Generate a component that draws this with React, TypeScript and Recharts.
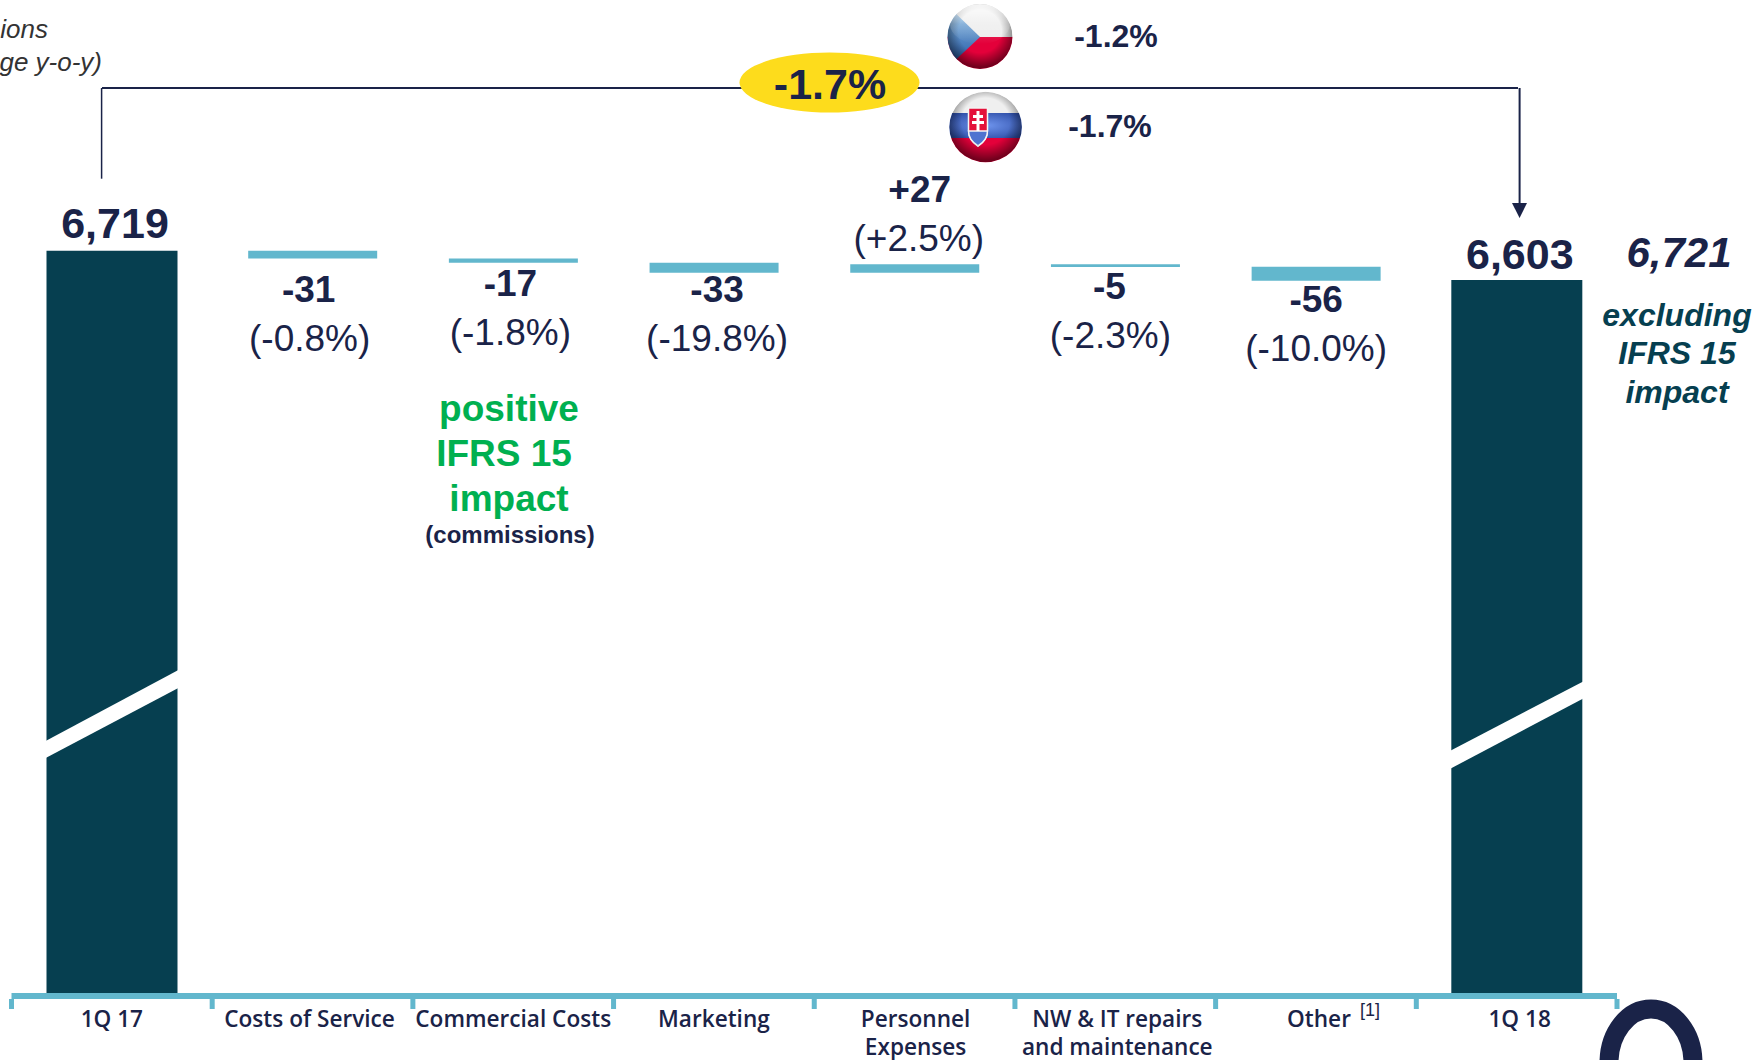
import { BarChart, Bar, Cell, XAxis, YAxis, LabelList, Rectangle } from 'recharts'

const categories = ['1Q 17', 'Costs of Service', 'Commercial Costs', 'Marketing', 'Personnel\nExpenses', 'NW & IT repairs\nand maintenance', 'Other', '1Q 18']
const barLows = [3780, 6688, 6671, 6632, 6632, 6654, 6600, 3780]
const barHighs = [6719, 6719, 6688, 6671, 6665, 6665, 6655, 6603]
const deltaLabels = ['6,719', '-31', '-17', '-33', '+27', '-5', '-56', '6,603']
const pctLabels = ['', '(-0.8%)', '(-1.8%)', '(-19.8%)', '(+2.5%)', '(-2.3%)', '(-10.0%)', '']

// label nudges from the bar top / band centre, in px
const labelDy = [-13, 51, 37, 39, -62, 35, 45, -11]
const pctDy = [0, 100, 86, 88, -13, 84, 94, 0]
const labelDx = [3, -4, -3, 3, 5, -6, 0, 3]
const pctDx = [0, -3, -3, 3, 4, -5, 0, 0]
const tickDx = [0, -3, 0, 0, 1, 2, 3, 3]

const NAVY = '#1A2348'
const TEAL = '#063F50'
const LIGHT = '#62B7CD'
const GREEN = '#00B050'
const YELLOW = '#FDDC1C'
const FONT = '"Liberation Sans", Arial, sans-serif'
const AXIS_FONT = '"Open Sans", sans-serif'

const WIDTH = 1763
const HEIGHT = 1060
const PLOT_LEFT = 11.5
const PLOT_RIGHT = 1617
const BAND = (PLOT_RIGHT - PLOT_LEFT) / categories.length

const isTotal = (i: number) => i === 0 || i === categories.length - 1

const data = categories.map((name, i) => ({
  name,
  range: [barLows[i], barHighs[i]],
  idx: i,
}))

function AxisTick({ x, y, payload, index }: any) {
  const lines = String(payload.value).split('\n')
  const cx = x + tickDx[index]
  return (
    <g>
      <rect x={x - BAND / 2 - 2.5} y={y - 2} width={5} height={10} fill={LIGHT} />
      {index === categories.length - 1 && <rect x={x + BAND / 2 - 2.5} y={y - 2} width={5} height={10} fill={LIGHT} />}
      {lines.map((line, i) => (
        <text key={i} x={cx} y={1026.5 + i * 28} textAnchor="middle" fontFamily={AXIS_FONT} fontWeight={600} fontSize={22.6} fill={NAVY}>
          {line}
        </text>
      ))}
    </g>
  )
}

function BarLabel({ x, y, width, index }: any) {
  const cx = x + width / 2
  return (
    <g>
      <text x={cx + labelDx[index]} y={y + labelDy[index]} textAnchor="middle" fontFamily={FONT} fontWeight={700} fontSize={isTotal(index) ? 43 : 37} fill={NAVY}>
        {deltaLabels[index]}
      </text>
      {pctLabels[index] && (
        <text x={cx + pctDx[index]} y={y + pctDy[index]} textAnchor="middle" fontFamily={FONT} fontSize={37} fill={NAVY}>
          {pctLabels[index]}
        </text>
      )}
    </g>
  )
}

// the change bars sit a touch narrower than the two totals
function WaterfallBar(props: any) {
  const inset = isTotal(props.idx) ? 0 : 1
  return <Rectangle {...props} x={props.x + inset} width={props.width - inset * 2} />
}

function Annotations() {
  return (
    <svg width={WIDTH} height={HEIGHT} style={{ position: 'absolute', left: 0, top: 0, pointerEvents: 'none' }}>
      <defs>
        <clipPath id="czClip"><ellipse cx={980} cy={36.5} rx={32.5} ry={32.5} /></clipPath>
        <clipPath id="skClip"><ellipse cx={985.6} cy={127} rx={36.3} ry={35.3} /></clipPath>
        <radialGradient id="shade" cx="50%" cy="42%" r="55%">
          <stop offset="60%" stopColor="#000" stopOpacity={0} />
          <stop offset="100%" stopColor="#000" stopOpacity={0.5} />
        </radialGradient>
        <linearGradient id="shine" x1="0" y1="0" x2="0" y2="1">
          <stop offset="0%" stopColor="#fff" stopOpacity={0.85} />
          <stop offset="50%" stopColor="#fff" stopOpacity={0.2} />
          <stop offset="100%" stopColor="#fff" stopOpacity={0} />
        </linearGradient>
        <linearGradient id="czBlue" x1="0" y1="0" x2="0" y2="1">
          <stop offset="0%" stopColor="#8FC4E8" />
          <stop offset="100%" stopColor="#1E4FA0" />
        </linearGradient>
        <radialGradient id="skBlue" cx="50%" cy="50%" r="60%">
          <stop offset="0%" stopColor="#6F95EE" />
          <stop offset="100%" stopColor="#2F4FA8" />
        </radialGradient>
      </defs>

      {/* axis breaks */}
      <polygon points="40,744 184,667 184,685 40,761" fill="#fff" />
      <polygon points="1446,753 1588,679 1588,696 1446,771" fill="#fff" />

      {/* overall change bracket */}
      <line x1={102} y1={88} x2={1518} y2={88} stroke={NAVY} strokeWidth={2} />
      <line x1={101.6} y1={88} x2={101.6} y2={178.7} stroke={NAVY} strokeWidth={1.5} />
      <line x1={1519.6} y1={88} x2={1519.6} y2={205} stroke={NAVY} strokeWidth={2} />
      <polygon points="1512,203 1527,203 1519.6,218" fill={NAVY} />
      <ellipse cx={829.5} cy={82.5} rx={90} ry={30} fill={YELLOW} />
      <text x={830} y={99} textAnchor="middle" fontFamily={FONT} fontWeight={700} fontSize={43} fill={NAVY}>-1.7%</text>

      {/* Czech flag */}
      <g clipPath="url(#czClip)">
        <rect x={945} y={2} width={70} height={35} fill="#EDEDED" />
        <rect x={945} y={37} width={70} height={34} fill="#E4003A" />
        <polygon points="945,3 980,37 945,70" fill="url(#czBlue)" />
        <ellipse cx={980} cy={36.5} rx={32.5} ry={32.5} fill="url(#shade)" />
        <ellipse cx={980} cy={24} rx={30} ry={20} fill="url(#shine)" />
      </g>

      {/* Slovak flag */}
      <g clipPath="url(#skClip)">
        <rect x={948} y={90} width={76} height={24} fill="#EFEFEF" />
        <rect x={948} y={113} width={76} height={25} fill="url(#skBlue)" />
        <rect x={948} y={138} width={76} height={26} fill="#E4003A" />
        <path d="M968.5,108 H987.5 V130 Q987.5,140 978,146 Q968.5,140 968.5,130 Z" fill="#E4103A" stroke="#F4F4F4" strokeWidth={1.5} />
        <path d="M968.5,131 H987.5 Q987.5,140 978,146 Q968.5,140 968.5,131 Z" fill="#4F73D0" stroke="#F4F4F4" strokeWidth={1.5} />
        <path d="M976.5,111 H979.5 V115 H983 V118 H979.5 V121 H984 V124 H979.5 V131 H976.5 V124 H972 V121 H976.5 V118 H973 V115 H976.5 Z" fill="#fff" />
        <ellipse cx={985.6} cy={127} rx={36.3} ry={35.3} fill="url(#shade)" />
      </g>

      <text x={1116} y={46.7} textAnchor="middle" fontFamily={FONT} fontWeight={700} fontSize={32} fill={NAVY}>-1.2%</text>
      <text x={1110} y={136.7} textAnchor="middle" fontFamily={FONT} fontWeight={700} fontSize={32} fill={NAVY}>-1.7%</text>

      {/* unit note, cut by the page edge in the source */}
      <text x={48} y={38} textAnchor="end" fontFamily={FONT} fontStyle="italic" fontSize={26} fill="#333">ions</text>
      <text x={102} y={71} textAnchor="end" fontFamily={FONT} fontStyle="italic" fontSize={26} fill="#333">ge y-o-y)</text>

      {/* IFRS note under Commercial Costs */}
      <g fontFamily={FONT} fontWeight={700} fontSize={37} fill={GREEN} textAnchor="middle">
        <text x={509} y={421}>positive</text>
        <text x={504} y={466}>IFRS 15</text>
        <text x={509} y={511}>impact</text>
      </g>
      <text x={510} y={543} textAnchor="middle" fontFamily={FONT} fontWeight={700} fontSize={24} fill={NAVY}>(commissions)</text>

      {/* result without IFRS 15 */}
      <text x={1679} y={266.7} textAnchor="middle" fontFamily={FONT} fontWeight={700} fontStyle="italic" fontSize={42} fill={NAVY}>6,721</text>
      <g fontFamily={FONT} fontWeight={700} fontStyle="italic" fontSize={32} fill={TEAL} textAnchor="middle">
        <text x={1677} y={326}>excluding</text>
        <text x={1677} y={364}>IFRS 15</text>
        <text x={1677} y={403}>impact</text>
      </g>

      <text x={1360} y={1016} fontFamily={FONT} fontSize={18} fill={NAVY}>[1]</text>

      {/* logo, cut by the bottom edge */}
      <ellipse cx={1651} cy={1063} rx={42} ry={54} fill="none" stroke={NAVY} strokeWidth={19} />
    </svg>
  )
}

export default function App() {
  return (
    <div style={{ position: 'absolute', left: 0, top: 0, width: WIDTH, height: HEIGHT, overflow: 'hidden', background: '#fff' }}>
      <BarChart
        width={WIDTH}
        height={HEIGHT}
        data={data}
        margin={{ top: 10, right: WIDTH - PLOT_RIGHT, bottom: 0, left: PLOT_LEFT }}
        barCategoryGap={0}
      >
        <XAxis
          dataKey="name"
          height={67}
          interval={0}
          tickLine={false}
          axisLine={{ stroke: LIGHT, strokeWidth: 6, transform: 'translate(0,3)' }}
          tick={<AxisTick />}
        />
        <YAxis hide domain={[3780, 7672]} allowDataOverflow />
        <Bar dataKey="range" barSize={131} isAnimationActive={false} shape={<WaterfallBar />}>
          {data.map((d) => (
            <Cell key={d.name} fill={isTotal(d.idx) ? TEAL : LIGHT} />
          ))}
          <LabelList dataKey="idx" content={<BarLabel />} />
        </Bar>
      </BarChart>
      <Annotations />
    </div>
  )
}
